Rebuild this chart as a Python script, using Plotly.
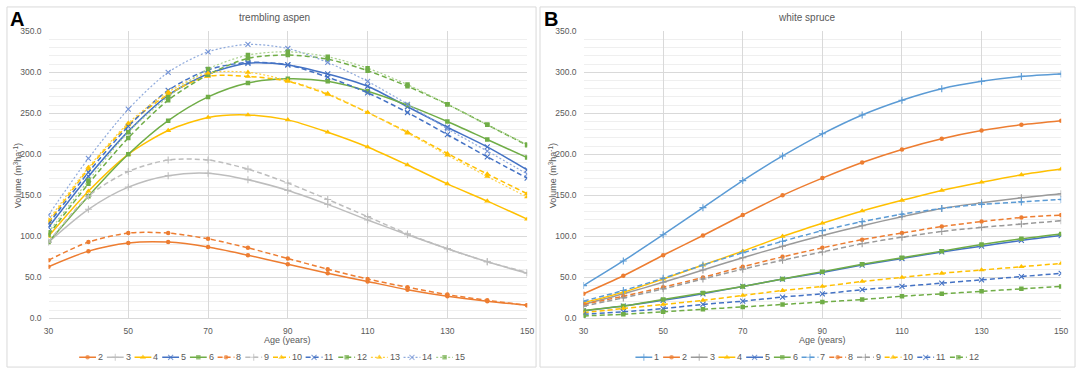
import plotly.graph_objects as go

W, H = 1084, 374

ages = [30, 40, 50, 60, 70, 80, 90, 100, 110, 120, 130, 140, 150]

# ---- Panel A: trembling aspen (volume m3/ha by age) ----
aspen_names = ["2", "3", "4", "5", "6", "8", "9", "10", "11", "12", "13", "14", "15"]
aspen_2 = [63, 82, 92, 93, 87, 77, 66, 55, 45, 35, 27, 21, 16]
aspen_3 = [93, 133, 160, 174, 177, 169, 156, 139, 120, 102, 85, 69, 55]
aspen_4 = [100, 155, 200, 229, 245, 248, 242, 227, 209, 187, 164, 143, 121]
aspen_5 = [111, 173, 228, 272, 298, 311, 309, 298, 283, 258, 233, 209, 181]
aspen_6 = [93, 149, 200, 241, 270, 287, 292, 289, 277, 260, 240, 218, 196]
aspen_8 = [71, 93, 104, 104, 97, 86, 73, 60, 48, 38, 29, 22, 16]
aspen_9 = [93, 149, 179, 193, 193, 182, 165, 145, 124, 103, 85, 69, 56]
aspen_10 = [117, 182, 236, 273, 295, 295, 289, 273, 251, 227, 201, 176, 152]
aspen_11 = [115, 178, 234, 278, 303, 312, 309, 294, 275, 251, 224, 197, 171]
aspen_12 = [102, 164, 220, 266, 297, 317, 321, 316, 302, 283, 261, 236, 211]
aspen_13 = [120, 184, 238, 276, 299, 300, 290, 274, 251, 226, 199, 173, 148]
aspen_14 = [126, 195, 255, 300, 325, 334, 329, 312, 289, 261, 231, 204, 176]
aspen_15 = [105, 168, 227, 270, 304, 321, 325, 319, 305, 285, 261, 236, 212]
aspen_values = [aspen_2, aspen_3, aspen_4, aspen_5, aspen_6, aspen_8, aspen_9,
                aspen_10, aspen_11, aspen_12, aspen_13, aspen_14, aspen_15]

# ---- Panel B: white spruce ----
spruce_names = ["1", "2", "3", "4", "5", "6", "7", "8", "9", "10", "11", "12"]
spruce_1 = [40, 70, 102, 135, 168, 198, 225, 248, 266, 280, 289, 295, 298]
spruce_2 = [30, 52, 77, 101, 126, 150, 171, 190, 206, 219, 229, 236, 241]
spruce_3 = [17, 30, 44, 59, 74, 88, 101, 113, 124, 134, 141, 147, 152]
spruce_4 = [19, 32, 48, 65, 82, 100, 116, 131, 144, 156, 166, 175, 182]
spruce_5 = [9, 15, 22, 30, 39, 48, 56, 65, 73, 81, 88, 95, 101]
spruce_6 = [9.5, 15, 23, 31, 39, 48, 57, 66, 74, 82, 90, 97, 103]
spruce_7 = [21, 34, 49, 65, 80, 94, 107, 118, 127, 134, 139, 142, 145]
spruce_8 = [17, 27, 38, 50, 63, 75, 86, 96, 104, 112, 118, 123, 126]
spruce_9 = [15, 25, 36, 48, 60, 71, 81, 91, 99, 106, 111, 115, 119]
spruce_10 = [7, 12, 17, 22, 28, 34, 39, 45, 50, 55, 59, 63, 67]
spruce_11 = [5, 8, 12, 17, 21, 26, 30, 35, 39, 43, 47, 51, 55]
spruce_12 = [3, 5, 8, 11, 14, 17, 20, 23, 27, 30, 33, 36, 39]
spruce_values = [spruce_1, spruce_2, spruce_3, spruce_4, spruce_5, spruce_6,
                 spruce_7, spruce_8, spruce_9, spruce_10, spruce_11, spruce_12]

x_ticks = [30, 50, 70, 90, 110, 130, 150]
y_ticks = [0, 50, 100, 150, 200, 250, 300, 350]

# ---- styles ----
DASH = "5px,3px"
DOT = "2px,2px"
STYLE = {
    "1": dict(line="#5B9BD5", mk="#5B9BD5", dash="solid", sym="cross-thin", w=1.5),
    "2": dict(line="#ED7D31", mk="#ED7D31", dash="solid", sym="circle", w=1.5),
    "3": dict(line="#A5A5A5", mk="#A5A5A5", dash="solid", sym="cross-thin", w=1.5),
    "4": dict(line="#FFC000", mk="#FFC000", dash="solid", sym="triangle-up", w=1.5),
    "5": dict(line="#4472C4", mk="#4472C4", dash="solid", sym="x-thin", w=1.5),
    "6": dict(line="#70AD47", mk="#70AD47", dash="solid", sym="square", w=1.5),
    "7": dict(line="#5B9BD5", mk="#5B9BD5", dash=DASH, sym="cross-thin", w=1.5),
    "8": dict(line="#ED7D31", mk="#ED7D31", dash=DASH, sym="circle", w=1.5),
    "9": dict(line="#A5A5A5", mk="#A5A5A5", dash=DASH, sym="cross-thin", w=1.5),
    "10": dict(line="#FFC000", mk="#FFC000", dash=DASH, sym="triangle-up", w=1.5),
    "11": dict(line="#4472C4", mk="#4472C4", dash=DASH, sym="x-thin", w=1.5),
    "12": dict(line="#70AD47", mk="#70AD47", dash=DASH, sym="square", w=1.5),
    "13": dict(line="#FFD040", mk="#FFC000", dash=DOT, sym="triangle-up", w=1.2),
    "14": dict(line="#8FAADC", mk="#7393D6", dash=DOT, sym="x-thin", w=1.2),
    "15": dict(line="#A9D18E", mk="#70AD47", dash=DOT, sym="square", w=1.2),
}
GRAY_OVERRIDE = {"A": "#BDBDBD", "B": "#9A9A9A"}
MSIZE = {"circle": 4.5, "square": 4.5, "triangle-up": 5.5, "x-thin": 5, "cross-thin": 5}


def marker_dict(st, size):
    thin = st["sym"].endswith("-thin")
    return dict(symbol=st["sym"], size=size, color=st["mk"],
                line=dict(color=st["mk"], width=1.1 if thin else 0))


fig = go.Figure()

panels = [
    ("A", aspen_names, aspen_values, "x", "y"),
    ("B", spruce_names, spruce_values, "x2", "y2"),
]
for pid, names, values, xa, ya in panels:
    for nm, vals in zip(names, values):
        st = dict(STYLE[nm])
        if nm in ("3", "9"):
            st["line"] = st["mk"] = GRAY_OVERRIDE[pid]
        fig.add_trace(go.Scatter(
            x=ages, y=vals, name=nm, xaxis=xa, yaxis=ya,
            mode="lines+markers", showlegend=False,
            line=dict(color=st["line"], width=st["w"], dash=st["dash"],
                      shape="spline", smoothing=0.8),
            marker=marker_dict(st, MSIZE[st["sym"]]),
        ))

# ---- custom legends drawn on a hidden pixel axis ----
TXT = dict(family="Liberation Sans, Arial, sans-serif", size=9, color="#595959")
TICK = dict(family="Liberation Sans, Arial, sans-serif", size=8.5, color="#595959")
annotations = []
legend_centers = {"A": 272, "B": 813}
for pid, names, _, _, _ in panels:
    widths = [23 + 5 * len(n) for n in names]
    cur = legend_centers[pid] - sum(widths) / 2.0
    for nm, wdt in zip(names, widths):
        st = dict(STYLE[nm])
        if nm in ("3", "9"):
            st["line"] = st["mk"] = GRAY_OVERRIDE[pid]
        m = marker_dict(st, [0, MSIZE[st["sym"]], 0])
        fig.add_trace(go.Scatter(
            x=[cur, cur + 8.5, cur + 17], y=[0, 0, 0], xaxis="x3", yaxis="y3",
            mode="lines+markers", showlegend=False, hoverinfo="skip",
            line=dict(color=st["line"], width=st["w"], dash=st["dash"]),
            marker=m,
        ))
        annotations.append(dict(x=cur + 18, y=0, xref="x3", yref="y3", text=nm,
                                showarrow=False, xanchor="left", yanchor="middle",
                                font=TXT, borderpad=0))
        cur += wdt


def px(xp):
    return xp / W


def py(yp):
    return 1 - yp / H


# titles, letters, axis titles
for pid, title, tx, lx, x0, x1 in [("A", "trembling aspen", 273, 3, 44, 528),
                                   ("B", "white spruce", 811, 543, 585, 1068)]:
    annotations.append(dict(x=px(tx), y=py(13), xref="paper", yref="paper", text=title,
                            showarrow=False, xanchor="center", yanchor="middle",
                            font=dict(family=TXT["family"], size=10, color="#595959")))
    annotations.append(dict(x=px(lx), y=py(1), xref="paper", yref="paper",
                            text="<b>%s</b>" % pid, showarrow=False,
                            xanchor="left", yanchor="top",
                            font=dict(family="Liberation Sans, Arial, sans-serif",
                                      size=20, color="#000000")))
    annotations.append(dict(x=px((x0 + x1) / 2), y=py(344), xref="paper", yref="paper",
                            text="Age (years)", showarrow=False, xanchor="center",
                            yanchor="middle", font=TXT))
    annotations.append(dict(x=px(x0 - 31), y=py(175), xref="paper", yref="paper",
                            text="Volume (m<sup>3</sup>ha<sup>-1</sup>)", showarrow=False,
                            textangle=-90, xanchor="center", yanchor="middle", font=TXT))

shapes = []
for x0, x1 in [(2, 537), (541, 1082)]:
    shapes.append(dict(type="rect", xref="paper", yref="paper",
                       x0=px(x0), x1=px(x1), y0=py(372), y1=py(2),
                       line=dict(color="#D9D9D9", width=1), layer="below"))

ydom = [1 - 322 / H, 1 - 27 / H]


def xaxis_cfg(dom, anchor):
    return dict(domain=dom, anchor=anchor, range=[30, 150], tickvals=x_ticks,
                showgrid=True, gridcolor="#D9D9D9", gridwidth=1, zeroline=False,
                showline=True, linecolor="#D9D9D9", linewidth=1, ticks="",
                tickfont=TICK, ticklabelstandoff=4, fixedrange=True)


def yaxis_cfg(anchor):
    return dict(domain=ydom, anchor=anchor, range=[0, 350], tickvals=y_ticks,
                tickformat=".1f", showgrid=True, gridcolor="#D9D9D9", gridwidth=1,
                minor=dict(dtick=10, showgrid=True, gridcolor="#EFEFEF", gridwidth=1),
                zeroline=False, showline=False, ticks="", tickfont=TICK,
                ticklabelstandoff=6, fixedrange=True)


fig.update_layout(
    width=W, height=H, autosize=False,
    margin=dict(l=0, r=0, t=0, b=0),
    paper_bgcolor="white", plot_bgcolor="white",
    showlegend=False,
    xaxis=xaxis_cfg([44 / W, 528 / W], "y"),
    yaxis=yaxis_cfg("x"),
    xaxis2=xaxis_cfg([585 / W, 1068 / W], "y2"),
    yaxis2=yaxis_cfg("x2"),
    xaxis3=dict(domain=[0, 1], anchor="y3", range=[0, W], visible=False, fixedrange=True),
    yaxis3=dict(domain=[0, 24 / H], anchor="x3", range=[-1, 1], visible=False, fixedrange=True),
    annotations=annotations,
    shapes=shapes,
    font=TXT,
)

fig.write_html(
    "out.html",
    config={"displayModeBar": False},
    post_script="document.body.style.margin='0';document.body.style.overflow='hidden';",
)
